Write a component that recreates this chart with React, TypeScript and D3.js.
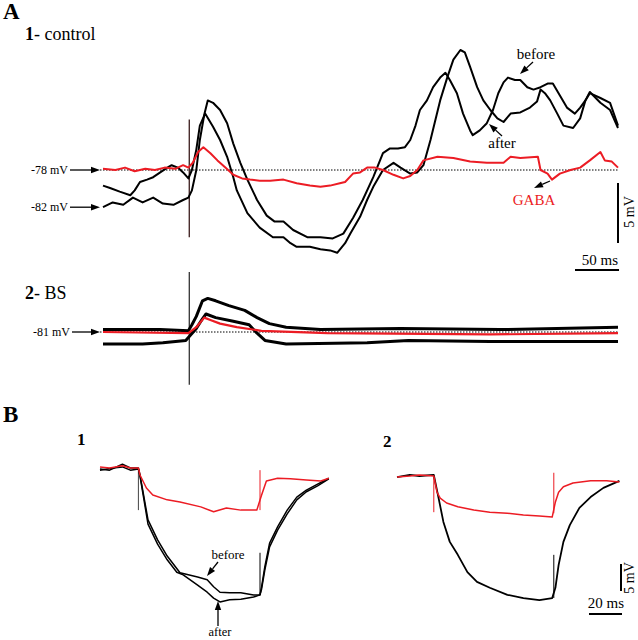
import React from 'react';
import * as d3 from 'd3';

type Pt = [number, number]; // [time ms, membrane potential mV]

// ---- A1: control (absolute mV) ----
const a1Before: Pt[] = [
  [0, -81.1], [11, -80.7], [23, -80.9], [34, -80.3], [45, -80.7], [57, -80.3], [68, -80.8], [80, -80.9],
  [91, -80.5], [97, -80.3], [101, -79.7], [106, -78.0], [110, -75.5], [115, -73.4], [119, -72.2], [125, -72.4],
  [133, -73.0], [141, -74.1], [148, -75.8], [156, -77.4], [164, -78.8], [175, -80.5], [186, -81.8], [195, -82.3],
  [205, -82.3], [216, -83.0], [232, -83.6], [247, -83.6], [261, -83.7], [273, -83.3], [284, -82.0], [295, -80.5],
  [307, -78.6], [318, -76.6], [326, -76.2], [335, -76.2], [343, -76.1], [349, -75.5], [355, -74.3], [360, -73.0],
  [368, -72.2], [375, -71.1], [383, -70.3], [389, -69.9], [394, -70.5], [402, -71.6], [409, -73.3], [417, -74.7],
  [420, -75.1], [428, -74.7], [436, -74.1], [443, -73.0], [449, -71.6], [455, -70.7], [460, -70.3], [468, -70.5],
  [474, -70.5], [482, -71.1], [489, -71.3], [497, -71.1], [505, -70.8], [511, -70.8], [519, -71.8], [527, -72.8],
  [536, -73.3], [542, -72.8], [548, -72.2], [553, -71.6], [565, -72.0], [576, -72.4], [585, -74.3],
];
const a1After: Pt[] = [
  [0, -79.3], [8, -79.5], [19, -79.8], [31, -80.1], [36, -79.7], [42, -79.0], [50, -78.8], [57, -78.6],
  [65, -78.2], [73, -77.8], [78, -77.6], [85, -77.8], [91, -78.2], [97, -78.7], [101, -78.0], [106, -76.3],
  [110, -74.3], [116, -73.3], [125, -74.4], [133, -75.5], [141, -76.9], [148, -78.6], [152, -79.7], [164, -81.6],
  [178, -82.8], [193, -83.6], [205, -83.6], [213, -84.1], [220, -84.4], [235, -84.4], [247, -84.6], [258, -84.7],
  [266, -84.9], [275, -84.1], [281, -83.3], [292, -81.9], [300, -80.5], [307, -79.4], [318, -78.0], [330, -77.4],
  [338, -77.8], [349, -78.3], [357, -78.2], [364, -77.6], [372, -75.5], [377, -74.0], [383, -72.2], [391, -70.3],
  [398, -68.8], [406, -68.0], [411, -68.2], [417, -69.4], [425, -71.1], [432, -72.2], [440, -73.0], [448, -73.7],
  [455, -74.0], [463, -73.3], [474, -73.2], [485, -72.8], [493, -72.3], [497, -71.3], [502, -71.6], [508, -72.2],
  [516, -73.3], [523, -74.3], [534, -74.5], [542, -73.7], [548, -72.2], [553, -71.5], [565, -72.4], [576, -73.0],
  [585, -74.5],
];
const a1Gaba: Pt[] = [
  [0, -77.9], [14, -78.0], [25, -77.8], [36, -78.1], [48, -77.9], [59, -78.0], [70, -77.8], [82, -77.9],
  [91, -77.6], [97, -77.8], [102, -77.4], [108, -76.5], [114, -76.1], [122, -76.6], [130, -77.2], [139, -77.8],
  [148, -78.4], [158, -78.7], [167, -78.8], [178, -78.9], [190, -78.9], [205, -78.8], [220, -79.1], [235, -79.3],
  [247, -79.4], [258, -79.3], [269, -79.1], [275, -79.0], [284, -78.3], [292, -78.2], [300, -77.8], [309, -77.8],
  [318, -78.0], [330, -78.4], [341, -78.7], [349, -78.5], [357, -78.0], [364, -77.2], [380, -76.9], [398, -77.0],
  [417, -77.3], [436, -77.4], [455, -77.4], [463, -76.9], [474, -77.0], [494, -76.9], [497, -78.0], [505, -78.3],
  [510, -78.8], [519, -78.3], [531, -78.0], [542, -77.8], [553, -77.2], [565, -76.5], [570, -77.2], [578, -77.3],
  [585, -77.8],
];

// ---- A2: BS ----
const a2Before: Pt[] = [
  [0, -80.8], [31, -80.8], [65, -80.8], [97, -80.9], [101, -80.4], [106, -79.7], [113, -78.4], [119, -78.2],
  [128, -78.4], [143, -78.8], [161, -79.2], [175, -79.8], [189, -80.3], [208, -80.6], [247, -80.8], [338, -80.7],
  [451, -80.8], [585, -80.6],
];
const a2After: Pt[] = [
  [0, -82.0], [45, -82.0], [68, -81.9], [94, -81.7], [106, -80.7], [113, -79.9], [117, -79.5], [128, -79.8],
  [148, -80.1], [166, -80.4], [175, -81.1], [184, -81.7], [208, -82.0], [300, -81.9], [347, -81.7], [440, -81.8],
  [585, -81.8],
];
const a2Gaba: Pt[] = [
  [0, -81.0], [97, -81.1], [106, -80.6], [115, -79.8], [122, -80.0], [133, -80.3], [152, -80.6], [180, -80.9],
  [255, -81.1], [440, -81.2], [585, -81.1],
];

// ---- B1, B2: responses to current step (mV relative to rest) ----
const b1Before: Pt[] = [
  [0, -0.2], [6, -0.4], [14, 0.7], [19, 0], [24, 0], [25, -1.3], [27, -4.6], [30, -9.6], [36, -13.3],
  [42, -16.3], [50, -19.4], [61, -20.2], [67, -20.7], [71, -22.0], [75, -23.0], [81, -23.1], [88, -23.1],
  [96, -23.5], [100, -23.5], [101, -22.0], [103, -18.3], [106, -13.9], [111, -10.9], [117, -7.8], [123, -5.4],
  [129, -4.1], [136, -3.0], [143, -1.9],
];
const b1After: Pt[] = [
  [0, -0.4], [8, 0], [14, 0.2], [19, -0.4], [24, -0.2], [25, -1.5], [27, -5.0], [30, -10.4], [36, -14.1],
  [42, -17.0], [48, -19.3], [52, -19.8], [61, -21.7], [67, -23.0], [71, -24.1], [75, -24.8], [81, -24.4],
  [88, -24.3], [96, -23.9], [100, -23.5], [101, -22.4], [103, -18.9], [106, -14.6], [111, -11.5], [117, -8.5],
  [123, -5.9], [129, -4.4], [136, -3.3], [143, -2.0],
];
const b1Gaba: Pt[] = [
  [0, 0.2], [6, 0], [14, 0.4], [19, 0], [24, 0], [25, -1.3], [29, -3.7], [33, -5.0], [42, -5.9], [50, -6.3],
  [63, -7.2], [71, -8.1], [79, -7.4], [88, -7.8], [98, -7.8], [101, -5.0], [104, -2.4], [111, -1.9], [119, -2.0],
  [129, -2.2], [138, -2.4], [143, -1.9],
];
const b2Control: Pt[] = [
  [0, -0.2], [8, 0.2], [14, 0], [23, 0.2], [26, -4.1], [29, -8.5], [33, -12.2], [38, -14.6], [44, -17.8],
  [50, -19.6], [58, -20.7], [69, -22.0], [79, -22.6], [89, -23.0], [97, -22.6], [99, -20.7], [101, -16.5],
  [104, -12.2], [108, -9.1], [114, -5.9], [121, -3.9], [129, -2.2], [139, -0.9],
];
const b2Gaba: Pt[] = [
  [0, -0.2], [8, 0], [14, 0.2], [23, 0], [25, -3.0], [27, -4.1], [31, -5.0], [38, -5.7], [48, -6.3], [58, -6.7],
  [69, -6.9], [79, -7.2], [89, -7.4], [97, -7.6], [99, -4.8], [101, -3.0], [104, -2.0], [110, -1.3], [121, -0.9],
  [131, -0.9], [139, -1.1],
];

// stimulus artifacts: [time, from mV, to mV]
const a1Stim: [number, number, number] = [98, -73.8, -83.6];
const a2Stim: [number, number, number] = [98, -76.0, -85.4];
const b1Artifacts = { on: [24, 0, -7.8], offRed: [100, -0.4, -7.8], offBlack: [100, -15.7, -23.5] };
const b2Artifacts = { onRed: [23, 0, -6.7], offRed: [98, 0.6, -6.9], offBlack: [98, -14.6, -22.6] };

const RED = '#ec1c24';
const FONT = '"Liberation Serif", "Times New Roman", serif';

const xA = d3.scaleLinear().domain([0, 585]).range([103, 618]);
const yA1 = d3.scaleLinear().domain([-78, -83]).range([170, 230]);
const yA2 = d3.scaleLinear().domain([-81, -86]).range([332, 392]);
const xB1 = d3.scaleLinear().domain([0, 100]).range([100, 260]);
const xB2 = d3.scaleLinear().domain([0, 100]).range([397, 557]);
const yB1 = d3.scaleLinear().domain([0, -5]).range([468, 495]);
const yB2 = d3.scaleLinear().domain([0, -5]).range([476, 503]);

const Arrow = ({ x1, y1, x2, y2 }: { x1: number; y1: number; x2: number; y2: number }) => {
  const a = Math.atan2(y2 - y1, x2 - x1);
  const L = 9, W = 3.2;
  const bx = x2 - L * Math.cos(a), by = y2 - L * Math.sin(a);
  const p = [
    [x2, y2],
    [bx + W * Math.sin(a), by - W * Math.cos(a)],
    [bx - W * Math.sin(a), by + W * Math.cos(a)],
  ];
  return (
    <g>
      <line x1={x1} y1={y1} x2={bx} y2={by} stroke="#000" strokeWidth={1.3} />
      <polygon points={p.map((q) => q.join(',')).join(' ')} fill="#000" />
    </g>
  );
};

const Trace = ({ data, x, y, color, width }: any) => {
  const line = d3.line<Pt>().x((d) => x(d[0])).y((d) => y(d[1]));
  return <path d={line(data) || ''} fill="none" stroke={color} strokeWidth={width} strokeLinejoin="round" />;
};

const Artifact = ({ a, x, y, color, width = 1 }: any) => (
  <line x1={x(a[0])} x2={x(a[0])} y1={y(a[1])} y2={y(a[2])} stroke={color} strokeWidth={width} />
);

export default function App() {
  return (
    <svg width={638} height={640} style={{ position: 'absolute', left: 0, top: 0, background: '#fff' }} fontFamily={FONT}>
      {/* panel labels */}
      <text x={3} y={19} fontSize={23} fontWeight="bold">A</text>
      <text x={25} y={40} fontSize={18}><tspan fontWeight="bold">1</tspan>- control</text>
      <text x={25} y={299} fontSize={18}><tspan fontWeight="bold">2</tspan>- BS</text>
      <text x={3} y={422} fontSize={23} fontWeight="bold">B</text>
      <text x={77} y={445} fontSize={17} fontWeight="bold">1</text>
      <text x={383} y={447} fontSize={17} fontWeight="bold">2</text>

      {/* A1 */}
      <line x1={100} x2={618} y1={yA1(-78)} y2={yA1(-78)} stroke="#000" strokeWidth={1} strokeDasharray="1.5,1.5" />
      <Artifact a={a1Stim} x={xA} y={yA1} color="#3b1c1c" width={1.3} />
      <Trace data={a1Before} x={xA} y={yA1} color="#000" width={2} />
      <Trace data={a1After} x={xA} y={yA1} color="#000" width={2} />
      <Trace data={a1Gaba} x={xA} y={yA1} color={RED} width={2} />
      <text x={68} y={yA1(-78) + 4} fontSize={12} textAnchor="end">-78 mV</text>
      <Arrow x1={70} y1={yA1(-78)} x2={100} y2={yA1(-78)} />
      <text x={68} y={yA1(a1Before[0][1]) + 4} fontSize={12} textAnchor="end">-82 mV</text>
      <Arrow x1={70} y1={yA1(a1Before[0][1])} x2={100} y2={yA1(a1Before[0][1])} />
      <text x={536} y={59} fontSize={15} textAnchor="middle">before</text>
      <Arrow x1={533} y1={62} x2={520} y2={74} />
      <text x={502} y={148} fontSize={15} textAnchor="middle">after</text>
      <Arrow x1={502} y1={136} x2={489} y2={124} />
      <text x={534} y={205} fontSize={15} textAnchor="middle" fill={RED}>GABA</text>
      <Arrow x1={550} y1={181} x2={534} y2={188} />
      {/* A scale bars */}
      <line x1={618} x2={618} y1={183} y2={183 + yA1(-83) - yA1(-78)} stroke="#000" strokeWidth={2} />
      <text transform="translate(634,212) rotate(-90)" fontSize={14} textAnchor="middle">5 mV</text>
      <line x1={575} x2={575 + xA(50) - xA(0)} y1={270} y2={270} stroke="#000" strokeWidth={2} />
      <text x={600} y={265} fontSize={15} textAnchor="middle">50 ms</text>

      {/* A2 */}
      <line x1={100} x2={618} y1={yA2(-81)} y2={yA2(-81)} stroke="#000" strokeWidth={1} strokeDasharray="1.5,1.5" />
      <Artifact a={a2Stim} x={xA} y={yA2} color="#222" width={1.2} />
      <Trace data={a2Before} x={xA} y={yA2} color="#000" width={3} />
      <Trace data={a2After} x={xA} y={yA2} color="#000" width={3} />
      <Trace data={a2Gaba} x={xA} y={yA2} color={RED} width={2.2} />
      <text x={70} y={yA2(-81) + 4} fontSize={12} textAnchor="end">-81 mV</text>
      <Arrow x1={72} y1={yA2(-81)} x2={100} y2={yA2(-81)} />

      {/* B1 */}
      <Artifact a={b1Artifacts.on} x={xB1} y={yB1} color="#444" />
      <Artifact a={b1Artifacts.offRed} x={xB1} y={yB1} color={RED} />
      <Artifact a={b1Artifacts.offBlack} x={xB1} y={yB1} color="#000" />
      <Trace data={b1Before} x={xB1} y={yB1} color="#000" width={1.5} />
      <Trace data={b1After} x={xB1} y={yB1} color="#000" width={1.5} />
      <Trace data={b1Gaba} x={xB1} y={yB1} color={RED} width={1.5} />
      <text x={228} y={559} fontSize={13} textAnchor="middle">before</text>
      <Arrow x1={218} y1={562} x2={207} y2={576} />
      <text x={220} y={636} fontSize={12.5} textAnchor="middle">after</text>
      <Arrow x1={218} y1={626} x2={218} y2={601} />

      {/* B2 */}
      <Artifact a={b2Artifacts.onRed} x={xB2} y={yB2} color={RED} />
      <Artifact a={b2Artifacts.offRed} x={xB2} y={yB2} color={RED} />
      <Artifact a={b2Artifacts.offBlack} x={xB2} y={yB2} color="#000" />
      <Trace data={b2Control} x={xB2} y={yB2} color="#000" width={1.8} />
      <Trace data={b2Gaba} x={xB2} y={yB2} color={RED} width={1.5} />
      {/* B scale bars */}
      <line x1={621} x2={621} y1={564} y2={564 + yB2(-5) - yB2(0)} stroke="#000" strokeWidth={2} />
      <text transform="translate(634,578) rotate(-90)" fontSize={14} textAnchor="middle">5 mV</text>
      <line x1={621 - (xB2(20) - xB2(0))} x2={622} y1={614} y2={614} stroke="#000" strokeWidth={2} />
      <text x={606} y={608} fontSize={15} textAnchor="middle">20 ms</text>
    </svg>
  );
}
